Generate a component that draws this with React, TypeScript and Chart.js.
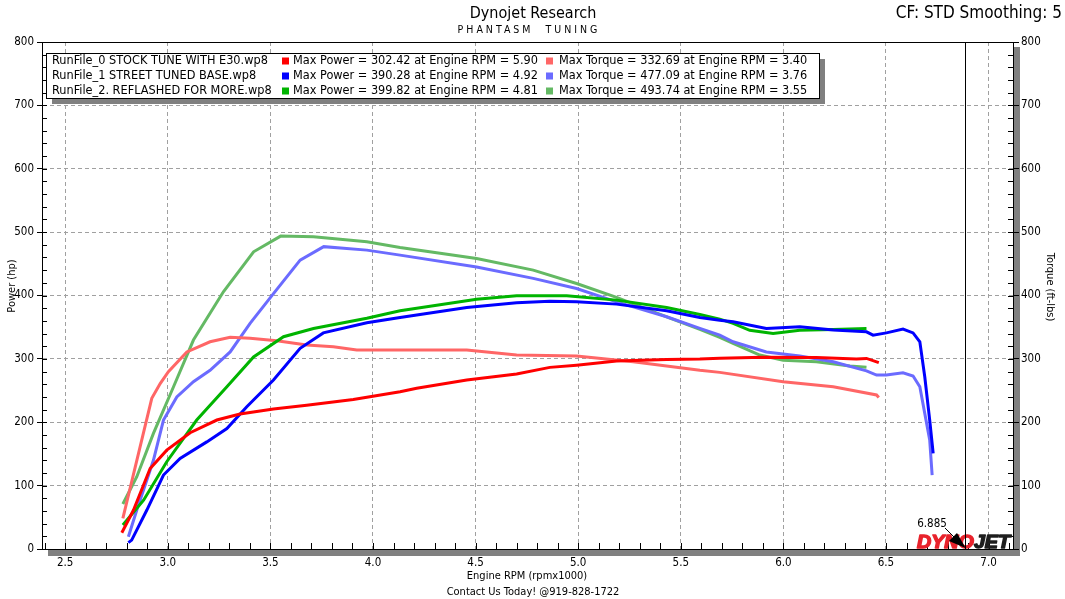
import React, { useEffect, useRef } from "react";
import { Chart, registerables } from "chart.js";

Chart.register(...registerables);

// ---------- axis ticks ----------
const xTickValues = [2.5, 3.0, 3.5, 4.0, 4.5, 5.0, 5.5, 6.0, 6.5, 7.0];
const yStep = 100;
const xMin = 2.387;
const xMax = 7.119;
const yMin = 0;
const yMax = 800;
const markerRpm = 6.885;

// ---------- legend info ----------
const runNames = [
  "RunFile_0 STOCK TUNE WITH E30.wp8",
  "RunFile_1 STREET TUNED BASE.wp8",
  "RunFile_2. REFLASHED FOR MORE.wp8",
];
const maxPowerValues = [302.42, 390.28, 399.82];
const maxPowerRpm = [5.9, 4.92, 4.81];
const maxTorqueValues = [332.69, 477.09, 493.74];
const maxTorqueRpm = [3.4, 3.76, 3.55];

// ---------- run 0 ----------
const run0PowerRpm = [2.776, 2.833, 2.914, 2.995, 3.109, 3.239, 3.352, 3.515, 3.677, 3.904, 4.132, 4.213, 4.457, 4.7, 4.862, 4.992, 5.187, 5.431, 5.593, 5.69, 5.9, 6.161, 6.356, 6.405, 6.465];
const run0PowerHp = [25.7, 61.5, 127, 156, 183.5, 203.5, 213, 220.8, 227, 236, 248, 253.5, 266.6, 276, 286.6, 290, 296.5, 299, 299.7, 301, 302.4, 302, 299.7, 300.7, 294];
const run0TorqueRpm = [2.781, 2.922, 2.963, 3.003, 3.093, 3.206, 3.304, 3.401, 3.531, 3.677, 3.807, 3.921, 4.132, 4.457, 4.7, 4.992, 5.268, 5.593, 5.69, 5.999, 6.243, 6.454, 6.465];
const run0TorqueFtLb = [48.4, 237.7, 261, 279.7, 311, 327, 334, 332.7, 328.6, 321.8, 319, 313.9, 313.9, 313.9, 306, 304.4, 295.5, 282, 278.7, 264, 256, 243, 239];

// ---------- run 1 ----------
const run1PowerRpm = [2.808, 2.824, 2.898, 2.979, 3.06, 3.19, 3.288, 3.385, 3.515, 3.645, 3.758, 3.97, 4.132, 4.457, 4.7, 4.862, 4.992, 5.187, 5.431, 5.593, 5.69, 5.755, 5.917, 6.08, 6.243, 6.405, 6.437, 6.502, 6.583, 6.632, 6.665, 6.689, 6.713, 6.73];
const run1PowerHp = [10, 14, 61.5, 116.7, 143, 169, 190, 224.5, 266.6, 316.6, 341, 357, 365.4, 381, 388.5, 391, 390.3, 386.4, 376, 365.4, 361, 358.5, 348, 350.6, 345.4, 342.7, 337.5, 341, 347, 341, 327, 271.8, 203.5, 151];
const run1TorqueRpm = [2.808, 2.849, 2.93, 2.979, 3.044, 3.125, 3.206, 3.304, 3.401, 3.515, 3.645, 3.76, 3.97, 4.132, 4.505, 4.781, 4.992, 5.187, 5.431, 5.593, 5.69, 5.755, 5.917, 6.08, 6.243, 6.405, 6.454, 6.502, 6.583, 6.632, 6.665, 6.689, 6.713, 6.725];
const run1TorqueFtLb = [19.4, 61.5, 140, 203.5, 240, 264, 282, 311, 356, 403, 455.8, 477.1, 471.6, 463.7, 445, 427, 411, 390, 366.4, 348, 337.5, 327, 311, 304.4, 295.5, 281, 274.4, 274.4, 278, 273, 256, 214, 172, 116.7];

// ---------- run 2 ----------
const run2PowerRpm = [2.781, 2.882, 2.995, 3.141, 3.288, 3.418, 3.564, 3.71, 3.97, 4.132, 4.505, 4.7, 4.81, 4.944, 5.187, 5.431, 5.593, 5.69, 5.755, 5.836, 5.95, 6.08, 6.243, 6.405];
const run2PowerHp = [37.9, 77, 137.7, 203.5, 256, 303, 335, 348, 364, 376, 394, 399.5, 399.8, 399.5, 392.7, 381, 370, 362.8, 356, 345, 340, 345, 346.5, 348];
const run2TorqueRpm = [2.781, 2.849, 2.93, 3.028, 3.125, 3.271, 3.418, 3.55, 3.71, 3.97, 4.132, 4.505, 4.781, 4.992, 5.187, 5.431, 5.593, 5.69, 5.755, 5.885, 5.999, 6.161, 6.324, 6.405];
const run2TorqueFtLb = [71, 114, 182.5, 256, 329.7, 405.8, 469, 493.7, 492.6, 484.7, 475.9, 458.5, 440, 419, 397, 366.4, 346.5, 334, 324.5, 306, 298, 295.5, 288.6, 286.6];

// ---------- styles ----------
const powerColors = ["#ff0000", "#0000ff", "#00b400"];
const torqueColors = ["#ff6666", "#6b6bff", "#64b964"];
const FONT = "'DejaVu Sans Condensed', 'DejaVu Sans', sans-serif";

const pts = (xs: number[], ys: number[]) => xs.map((x, i) => ({ x, y: ys[i] }));

const decorPlugin = {
  id: "decor",
  beforeDraw(chart: any) {
    const { ctx, chartArea: a } = chart;
    ctx.save();
    ctx.fillStyle = "#ffffff";
    ctx.fillRect(0, 0, chart.width, chart.height);
    ctx.fillStyle = "#808080";
    ctx.fillRect(a.left + 6, a.bottom + 1, a.right - a.left, 6);
    ctx.fillRect(a.right + 1, a.top + 5, 6, a.bottom - a.top + 2);
    ctx.restore();
  },
  afterDatasetsDraw(chart: any) {
    const { ctx, chartArea: a, scales } = chart;
    const x = scales.x;
    const y = scales.y;
    ctx.save();
    // plot frame
    ctx.strokeStyle = "#000";
    ctx.lineWidth = 1;
    ctx.strokeRect(a.left + 0.5, a.top + 0.5, a.right - a.left, a.bottom - a.top);
    // minor ticks (inward)
    ctx.beginPath();
    for (let v = yMin; v <= yMax; v += 20) {
      const py = Math.round(y.getPixelForValue(v)) + 0.5;
      ctx.moveTo(a.left, py);
      ctx.lineTo(a.left + 5, py);
      ctx.moveTo(a.right + 1, py);
      ctx.lineTo(a.right - 5, py);
    }
    for (let k = 24; k <= 71; k++) {
      const px = Math.round(x.getPixelForValue(k / 10)) + 0.5;
      ctx.moveTo(px, a.bottom);
      ctx.lineTo(px, a.bottom - 6);
    }
    ctx.stroke();

    // DYNOJET logo
    const lx = 917;
    const ly = 548;
    ctx.font = `italic bold 18px 'Liberation Sans', Arial, sans-serif`;
    ctx.textBaseline = "alphabetic";
    ctx.textAlign = "left";
    const w1 = ctx.measureText("DYNO").width;
    const w2 = ctx.measureText("JET").width;
    const sx = 93 / (w1 + w2);
    ctx.save();
    ctx.translate(lx, ly);
    ctx.scale(sx, 1);
    ctx.lineWidth = 1.4;
    ctx.lineJoin = "round";
    ctx.fillStyle = "#e8232c";
    ctx.strokeStyle = "#e8232c";
    ctx.fillText("DYNO", 0, 0);
    ctx.strokeText("DYNO", 0, 0);
    ctx.fillStyle = "#1e1e1e";
    ctx.strokeStyle = "#1e1e1e";
    ctx.fillText("JET", w1, 0);
    ctx.strokeText("JET", w1, 0);
    ctx.restore();

    // marker line
    const mx = Math.round(x.getPixelForValue(markerRpm)) + 0.5;
    ctx.strokeStyle = "#000";
    ctx.lineWidth = 1;
    ctx.beginPath();
    ctx.moveTo(mx, a.top);
    ctx.lineTo(mx, a.bottom);
    ctx.stroke();
    // arrow + label
    ctx.beginPath();
    ctx.moveTo(945, 528);
    ctx.lineTo(956, 539);
    ctx.stroke();
    ctx.fillStyle = "#000";
    ctx.beginPath();
    ctx.moveTo(mx, a.bottom - 1);
    ctx.lineTo(949, 541);
    ctx.lineTo(957, 533);
    ctx.closePath();
    ctx.fill();
    ctx.font = `11.5px ${FONT}`;
    ctx.textAlign = "center";
    ctx.textBaseline = "middle";
    ctx.fillText(markerRpm.toFixed(3), 932, 524);

    // legend box
    const bx = 46, by = 53, bw = 773, bh = 45;
    ctx.fillStyle = "#808080";
    ctx.fillRect(bx + 6, by + 6, bw, bh);
    ctx.fillStyle = "#fff";
    ctx.fillRect(bx, by, bw, bh);
    ctx.strokeStyle = "#000";
    ctx.strokeRect(bx + 0.5, by + 0.5, bw, bh);
    ctx.font = `12.6px ${FONT}`;
    ctx.textAlign = "left";
    ctx.textBaseline = "middle";
    runNames.forEach((name, i) => {
      const ry = 61 + i * 15;
      ctx.fillStyle = "#000";
      ctx.fillText(name, 52, ry);
      ctx.fillStyle = powerColors[i];
      ctx.fillRect(282, ry - 3.5, 7, 7);
      ctx.fillStyle = "#000";
      ctx.fillText(
        `Max Power = ${maxPowerValues[i].toFixed(2)} at Engine RPM = ${maxPowerRpm[i].toFixed(2)}`,
        293,
        ry
      );
      ctx.fillStyle = torqueColors[i];
      ctx.fillRect(546, ry - 3.5, 7, 7);
      ctx.fillStyle = "#000";
      ctx.fillText(
        `Max Torque = ${maxTorqueValues[i].toFixed(2)} at Engine RPM = ${maxTorqueRpm[i].toFixed(2)}`,
        559,
        ry
      );
    });
    ctx.restore();
  },
  afterDraw(chart: any) {
    const { ctx } = chart;
    ctx.save();
    ctx.fillStyle = "#000";
    ctx.textBaseline = "middle";
    ctx.textAlign = "center";
    ctx.font = `16px ${FONT}`;
    ctx.fillText("Dynojet Research", 533, 14);
    ctx.textAlign = "right";
    ctx.font = `17px ${FONT}`;
    ctx.fillText("CF: STD Smoothing: 5", 1062, 14);
    ctx.textAlign = "center";
    ctx.font = `10.5px ${FONT}`;
    (ctx as any).letterSpacing = "3px";
    ctx.fillText("PHANTASM  TUNING", 529, 30);
    (ctx as any).letterSpacing = "0px";
    ctx.font = `11px ${FONT}`;
    ctx.fillText("Engine RPM (rpmx1000)", 527, 576);
    ctx.fillText("Contact Us Today! @919-828-1722", 533, 592);
    ctx.save();
    ctx.translate(12, 286);
    ctx.rotate(-Math.PI / 2);
    ctx.fillText("Power (hp)", 0, 0);
    ctx.restore();
    ctx.save();
    ctx.translate(1050, 287);
    ctx.rotate(Math.PI / 2);
    ctx.fillText("Torque (ft-lbs)", 0, 0);
    ctx.restore();
    ctx.restore();
  },
};

export default function App() {
  const ref = useRef<HTMLCanvasElement>(null);
  useEffect(() => {
    const lineDs = (label: string, data: any[], color: string, axis: string) => ({
      label,
      data,
      borderColor: color,
      backgroundColor: color,
      borderWidth: 3,
      pointRadius: 0,
      tension: 0,
      fill: false,
      yAxisID: axis,
    });
    const chart = new Chart(ref.current as HTMLCanvasElement, {
      type: "line",
      data: {
        datasets: [
          lineDs("Run0 Power", pts(run0PowerRpm, run0PowerHp), powerColors[0], "y"),
          lineDs("Run1 Power", pts(run1PowerRpm, run1PowerHp), powerColors[1], "y"),
          lineDs("Run2 Power", pts(run2PowerRpm, run2PowerHp), powerColors[2], "y"),
          lineDs("Run0 Torque", pts(run0TorqueRpm, run0TorqueFtLb), torqueColors[0], "y1"),
          lineDs("Run1 Torque", pts(run1TorqueRpm, run1TorqueFtLb), torqueColors[1], "y1"),
          lineDs("Run2 Torque", pts(run2TorqueRpm, run2TorqueFtLb), torqueColors[2], "y1"),
        ],
      },
      options: {
        responsive: false,
        animation: false,
        devicePixelRatio: 1,
        layout: { padding: { top: 42, left: 0, right: 0, bottom: 0 } },
        plugins: { legend: { display: false }, tooltip: { enabled: false } },
        scales: {
          x: {
            type: "linear",
            min: xMin,
            max: xMax,
            afterBuildTicks: (s: any) => {
              s.ticks = xTickValues.map((v) => ({ value: v }));
            },
            afterFit: (s: any) => {
              s.height = 50;
            },
            ticks: {
              callback: (v: any) => Number(v).toFixed(1),
              font: { family: FONT, size: 11.5 },
              color: "#000",
              padding: 7,
              maxRotation: 0,
              autoSkip: false,
            },
            grid: { color: "#a0a0a0", drawTicks: false, lineWidth: 1 },
            border: { display: true, color: "#000", dash: [4, 3] },
          },
          y: {
            type: "linear",
            position: "left",
            min: yMin,
            max: yMax,
            afterFit: (s: any) => {
              s.width = 42;
            },
            ticks: {
              stepSize: yStep,
              font: { family: FONT, size: 11.5 },
              color: "#000",
              padding: 3,
            },
            grid: {
              color: "#a0a0a0",
              tickColor: "#000",
              tickLength: 5,
              drawTicks: true,
              lineWidth: 1,
            },
            border: { display: true, color: "#000", dash: [4, 3] },
          },
          y1: {
            type: "linear",
            position: "right",
            min: yMin,
            max: yMax,
            afterFit: (s: any) => {
              s.width = 52;
            },
            ticks: {
              stepSize: yStep,
              font: { family: FONT, size: 11.5 },
              color: "#000",
              padding: 2,
            },
            grid: {
              drawOnChartArea: false,
              tickColor: "#000",
              tickLength: 6,
              drawTicks: true,
            },
            border: { display: true, color: "#000" },
          },
        },
      },
      plugins: [decorPlugin],
    } as any);
    return () => chart.destroy();
  }, []);
  return (
    <div style={{ position: "absolute", left: 0, top: 0, width: 1065, height: 599, background: "#fff" }}>
      <canvas ref={ref} width={1065} height={599} style={{ display: "block", width: 1065, height: 599 }} />
    </div>
  );
}
